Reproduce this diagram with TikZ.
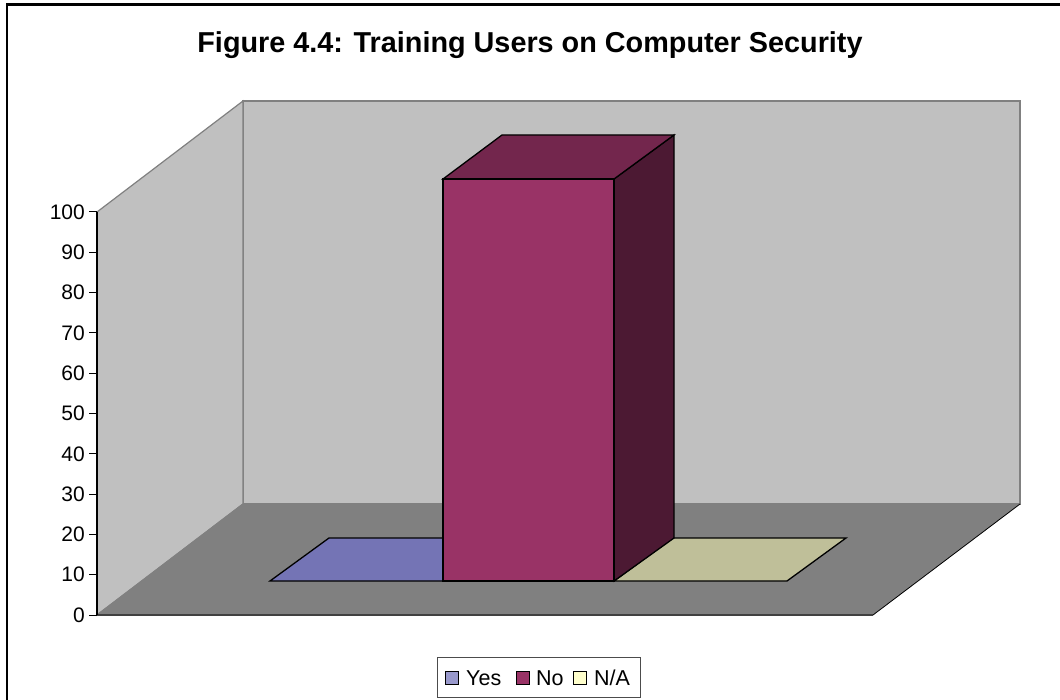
\documentclass[tikz,border=0pt]{standalone}
\usepackage{fontspec}
\setmainfont{Liberation Sans}
\definecolor{wallc}{HTML}{C0C0C0}
\definecolor{floorc}{HTML}{808080}
\definecolor{edgec}{HTML}{808080}
\definecolor{flooredge}{HTML}{404040}
\definecolor{yestop}{HTML}{7474B5}
\definecolor{yesleg}{HTML}{9999CC}
\definecolor{nofront}{HTML}{993366}
\definecolor{notop}{HTML}{73264D}
\definecolor{noside}{HTML}{4C1933}
\definecolor{natop}{HTML}{BFBF99}
\definecolor{naleg}{HTML}{FFFFCC}
\tikzset{
  wall/.style={fill=wallc, draw=edgec, line width=1.2pt, line join=miter},
  barface/.style={draw=black, line width=1.3pt, line join=miter},
  ticklabel/.style={anchor=east, font=\fontsize{21}{21}\selectfont, inner sep=0pt},
  legsq/.style={draw=black, line width=1pt, minimum size=13pt, inner sep=0pt},
  legtext/.style={anchor=west, font=\fontsize{21.5}{21.5}\selectfont, inner sep=0pt},
}
\begin{document}
\begin{tikzpicture}[x=1pt,y=-1pt]
\useasboundingbox (0,0) rectangle (1060,700);
\clip (0,0) rectangle (1060,700);
\fill[white] (0,0) rectangle (1060,700);
% outer frame
\draw[black, line width=2.2pt] (7,4.5) rectangle (1100,760);
% title
\node[font=\bfseries\fontsize{28.8}{28.8}\selectfont, inner sep=0pt, anchor=base] (title) at (530,53) {Figure 4.4: Training Users on Computer Security};
% walls
\draw[wall] (243,101) -- (1020,101) -- (1020,504) -- (243,504) -- cycle;
\draw[wall] (97,212) -- (243,101) -- (243,504) -- (97,615) -- cycle;
\fill[floorc] (97,615) -- (243,504) -- (1020,504) -- (873,615) -- cycle;
\draw[edgec, line width=1.2pt] (243,504) -- (1020,504);
\draw[edgec, line width=1.2pt] (97,615) -- (243,504);
\draw[black, line width=0.8pt] (1020,504) -- (873,615);
\draw[flooredge, line width=1.5pt] (97,615) -- (873,615);
% y axis
\draw[black, line width=1.2pt] (97,212) -- (97,615);
\foreach \v [count=\i from 0] in {0,10,20,30,40,50,60,70,80,90,100}{
  \pgfmathsetmacro{\yy}{615-40.3*\i}
  \draw[black, line width=1pt] (89,\yy) -- (97,\yy);
  \node[ticklabel] (t\i) at (85,\yy) {\v};
}
% Yes bar (zero height)
\draw[barface, fill=yestop] (270,581) -- (443,581) -- (502,538) -- (329,538) -- cycle;
% N/A bar (zero height)
\draw[barface, fill=natop] (614,581) -- (787,581) -- (846,538) -- (673,538) -- cycle;
% No bar
\draw[barface, fill=noside] (614,179) -- (674,135) -- (674,538) -- (614,581) -- cycle;
\draw[barface, fill=notop] (443,179) -- (502,135) -- (674,135) -- (614,179) -- cycle;
\draw[barface, fill=nofront] (443,179) rectangle (614,581);
% legend
\draw[black!70, line width=1pt, fill=white] (437,657) rectangle (640,697);
\node[legsq, fill=yesleg] (lyes) at (452,677.5) {};
\node[legtext, anchor=base west] (tyes) at (466,685) {Yes};
\node[legsq, fill=nofront] (lno) at (523,677.5) {};
\node[legtext, anchor=base west] (tno) at (536,685) {No};
\node[legsq, fill=naleg] (lna) at (580,677.5) {};
\node[legtext, anchor=base west] (tna) at (594,685) {N/A};
\end{tikzpicture}
\end{document}
